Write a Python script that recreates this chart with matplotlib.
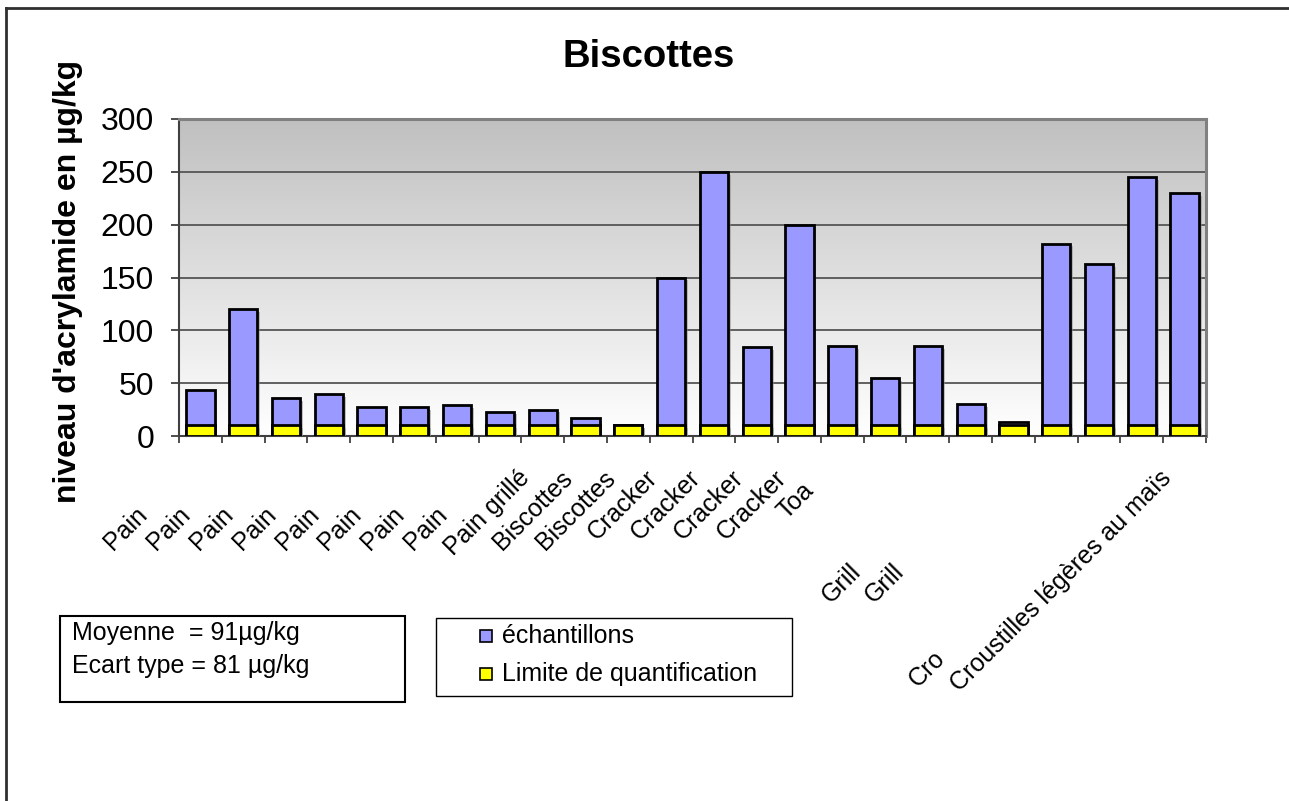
import matplotlib
matplotlib.use('Agg')
import matplotlib.pyplot as plt
import numpy as np
from matplotlib.patches import Rectangle
from matplotlib.lines import Line2D
from matplotlib.colors import LinearSegmentedColormap
from matplotlib.transforms import ScaledTranslation, blended_transform_factory
import matplotlib.patheffects as pe

plt.rcParams['font.family'] = ['Liberation Sans', 'DejaVu Sans']

# ---------------- data ----------------
tick_labels = ["Pain", "Pain", "Pain", "Pain", "Pain", "Pain", "Pain", "Pain",
               "Pain grillé", "Biscottes", "Biscottes",
               "Cracker", "Cracker", "Cracker", "Cracker", "Toa",
               "", "", "Grill", "Grill", "", "", "Cro",
               "Croustilles légères au maïs"]
# labels that are clipped in the original (visible start only): diagonal length in px
clipped_len = [95, 95, 95, 95, 95, 95, 95, 95,
               None, None, None,
               None, None, None, None, 64,
               None, None, 148, 148, None, None, 232,
               None]
samples = [44, 120, 36, 40, 27, 27, 29, 23, 25, 17, 10, 150,
           250, 84, 200, 85, 55, 85, 30, 13, 182, 163, 245, 230]
loq = [10] * 24
yticks = [0, 50, 100, 150, 200, 250, 300]
title = "Biscottes"
ylabel = "niveau d'acrylamide en µg/kg"
series_names = ["échantillons", "Limite de quantification"]
stats_lines = ["Moyenne  = 91µg/kg", "Ecart type = 81 µg/kg"]

W, H = 1289, 801
fig = plt.figure(figsize=(W / 100, H / 100), dpi=100)

def fx(px): return px / W
def fy(py): return 1 - py / H

ax = fig.add_axes([fx(179), fy(436), fx(1206) - fx(179), fy(119) - fy(436)])

n = len(samples)
x = np.arange(n)

# gradient background
cmap = LinearSegmentedColormap.from_list('bg', ['#ffffff', '#c0c0c0'])
ax.imshow(np.linspace(0, 1, 256).reshape(-1, 1), extent=[-0.5, n - 0.5, 0, 300],
          aspect='auto', cmap=cmap, origin='lower', zorder=0)

for v in yticks[1:-1]:
    ax.axhline(v, color='#555555', lw=1.3, zorder=1)

shadow = [pe.SimplePatchShadow(offset=(2, -2), shadow_rgbFace='#888888', alpha=0.5), pe.Normal()]
ax.bar(x, samples, width=0.66, color='#9999FF', edgecolor='black', linewidth=2,
       zorder=3, path_effects=shadow)
ax.bar(x, loq, width=0.66, color='#FFFF00', edgecolor='black', linewidth=2,
       zorder=4, path_effects=shadow)

ax.set_xlim(-0.5, n - 0.5)
ax.set_ylim(0, 300)
ax.set_yticks(yticks)
ax.set_yticklabels([str(v) for v in yticks], fontsize=23)
ax.tick_params(axis='y', length=6, width=1.3, color='#404040', pad=12)
ax.set_xticks([])
ax.set_xticks(np.arange(-0.5, n), minor=True)
ax.tick_params(axis='x', which='minor', length=5, width=1.3, color='#404040')
for s in ['top', 'right']:
    ax.spines[s].set_color('#808080')
    ax.spines[s].set_linewidth(2.2)
for s in ['left', 'bottom']:
    ax.spines[s].set_color('#404040')
    ax.spines[s].set_linewidth(1.5)

# x labels rotated 45°
base = blended_transform_factory(ax.transData, ax.transAxes)
k = 0.72  # px -> pt
for i, (lab, L) in enumerate(zip(tick_labels, clipped_len)):
    if not lab:
        continue
    if L is None:
        off = ScaledTranslation(-12 * k / 72, -43 * k / 72, fig.dpi_scale_trans)
        ax.text(i, 0, lab, transform=base + off, rotation=45, rotation_mode='anchor',
                ha='right', va='baseline', fontsize=18, clip_on=False)
    else:
        off = ScaledTranslation((-L + 8) * k / 72, -(L + 20) * k / 72, fig.dpi_scale_trans)
        ax.text(i, 0, lab, transform=base + off, rotation=45, rotation_mode='anchor',
                ha='left', va='baseline', fontsize=18, clip_on=False)

fig.text(fx(649), fy(57), title, fontsize=27.5, fontweight='bold', ha='center', va='center')
fig.text(fx(68), fy(281), ylabel, fontsize=23, fontweight='bold', rotation=90,
         ha='center', va='center')

# stats box
fig.patches.append(Rectangle((fx(60), fy(702)), fx(405) - fx(60), fy(616) - fy(702),
                             transform=fig.transFigure, fill=False, ec='black', lw=1.5))
for j, t in enumerate(stats_lines):
    fig.text(fx(72), fy(633 + 33 * j), t, fontsize=18, ha='left', va='center')

# legend box
fig.patches.append(Rectangle((fx(436), fy(696)), fx(792) - fx(436), fy(618) - fy(696),
                             transform=fig.transFigure, fill=False, ec='black', lw=1.0))
for j, (name, col) in enumerate(zip(series_names, ['#9999FF', '#FFFF00'])):
    cy = 636 + 38 * j
    fig.patches.append(Rectangle((fx(480), fy(cy + 6)), fx(492) - fx(480), fy(cy - 6) - fy(cy + 6),
                                 transform=fig.transFigure, fc=col, ec='black', lw=1.2))
    fig.text(fx(502), fy(cy), name, fontsize=18, ha='left', va='center')

# outer border (top and left)
fig.lines.append(Line2D([fx(6), 1], [fy(8), fy(8)], transform=fig.transFigure, color='#303030', lw=2))
fig.lines.append(Line2D([fx(6), fx(6)], [fy(8), 0], transform=fig.transFigure, color='#303030', lw=2))

fig.savefig('out.png', dpi=100)
